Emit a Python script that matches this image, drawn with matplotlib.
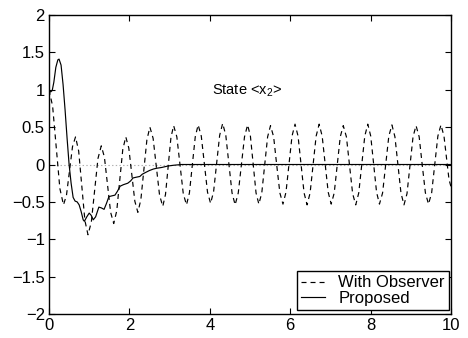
import matplotlib
matplotlib.use('Agg')
import matplotlib.pyplot as plt
from matplotlib.ticker import FuncFormatter

plt.rcParams['font.family'] = ['Liberation Sans', 'DejaVu Sans']
plt.rcParams['font.size'] = 12
plt.rcParams['lines.scale_dashes'] = False

# state x2, observer based controller (dashed)
t_obs = [0.0, 0.09, 0.18, 0.27,
	0.36, 0.435, 0.51, 0.585,
	0.66, 0.738, 0.815, 0.893,
	0.97, 1.053, 1.135, 1.218,
	1.30, 1.378, 1.455, 1.533,
	1.61, 1.685, 1.76, 1.835,
	1.91, 1.985, 2.06, 2.135,
	2.21, 2.285, 2.36, 2.435,
	2.51, 2.59, 2.67, 2.75,
	2.83, 2.898, 2.965, 3.033,
	3.10, 3.18, 3.26, 3.34,
	3.42, 3.493, 3.565, 3.638,
	3.71, 3.788, 3.865, 3.943,
	4.02, 4.095, 4.17, 4.245,
	4.32, 4.398, 4.475, 4.553,
	4.63, 4.708, 4.785, 4.863,
	4.94, 5.01, 5.08, 5.15,
	5.22, 5.293, 5.365, 5.438,
	5.51, 5.588, 5.665, 5.743,
	5.82, 5.895, 5.97, 6.045,
	6.12, 6.195, 6.27, 6.345,
	6.42, 6.495, 6.57, 6.645,
	6.72, 6.795, 6.87, 6.945,
	7.02, 7.095, 7.17, 7.245,
	7.32, 7.398, 7.475, 7.553,
	7.63, 7.705, 7.78, 7.855,
	7.93, 8.003, 8.075, 8.148,
	8.22, 8.298, 8.375, 8.453,
	8.53, 8.605, 8.68, 8.755,
	8.83, 8.905, 8.98, 9.055,
	9.13, 9.208, 9.285, 9.363,
	9.44, 9.518, 9.595, 9.673,
	9.75, 9.825, 9.90, 9.95, 10.0]
x2_obs = [1.00, 0.78, 0.23, -0.32,
	-0.54, -0.41, -0.09, 0.24,
	0.37, 0.18, -0.29, -0.75,
	-0.94, -0.77, -0.35, 0.08,
	0.25, 0.10, -0.27, -0.64,
	-0.79, -0.62, -0.21, 0.20,
	0.37, 0.22, -0.14, -0.49,
	-0.64, -0.47, -0.07, 0.33,
	0.50, 0.35, -0.03, -0.41,
	-0.56, -0.40, -0.02, 0.36,
	0.52, 0.37, -0.01, -0.39,
	-0.54, -0.38, -0.01, 0.37,
	0.53, 0.38, 0.01, -0.37,
	-0.52, -0.36, 0.02, 0.39,
	0.55, 0.39, 0.01, -0.38,
	-0.54, -0.38, -0.01, 0.37,
	0.53, 0.38, 0.00, -0.38,
	-0.53, -0.38, -0.01, 0.37,
	0.52, 0.37, -0.01, -0.38,
	-0.53, -0.37, 0.01, 0.38,
	0.54, 0.38, 0.00, -0.38,
	-0.54, -0.38, 0.00, 0.38,
	0.54, 0.38, 0.01, -0.37,
	-0.53, -0.38, -0.01, 0.37,
	0.52, 0.37, -0.01, -0.39,
	-0.54, -0.38, 0.00, 0.38,
	0.54, 0.38, 0.01, -0.37,
	-0.53, -0.38, 0.00, 0.38,
	0.53, 0.37, -0.01, -0.38,
	-0.54, -0.39, -0.01, 0.37,
	0.52, 0.37, -0.01, -0.38,
	-0.53, -0.38, 0.00, 0.38,
	0.53, 0.38, 0.03, -0.20, -0.30]

# state x2, proposed controller (solid)
t_prop = [0.0, 0.04, 0.08, 0.12, 0.17, 0.22, 0.25, 0.30, 0.35, 0.40,
	0.45, 0.50, 0.55, 0.60, 0.65, 0.70, 0.75, 0.80, 0.85, 0.88,
	0.94, 1.00, 1.05, 1.10, 1.16, 1.24, 1.30, 1.37, 1.43, 1.49,
	1.56, 1.64, 1.70, 1.77, 1.85, 1.96, 2.03, 2.09, 2.17, 2.26,
	2.32, 2.39, 2.50, 2.60, 2.68, 2.80, 2.96, 3.10, 3.30, 3.60,
	4.00, 10.0]
x2_prop = [1.00, 0.97, 0.99, 1.10, 1.30, 1.40, 1.41, 1.33, 1.07, 0.73,
	0.35, 0.00, -0.25, -0.44, -0.49, -0.50, -0.54, -0.63, -0.74, -0.76,
	-0.70, -0.65, -0.68, -0.74, -0.70, -0.57, -0.58, -0.60, -0.52, -0.43,
	-0.42, -0.41, -0.36, -0.29, -0.27, -0.25, -0.22, -0.18, -0.17, -0.16,
	-0.13, -0.11, -0.08, -0.06, -0.05, -0.04, -0.02, -0.01, 0.00, 0.00,
	0.00, 0.00]

xticks = [0, 2, 4, 6, 8, 10]
yticks = [-2, -1.5, -1, -0.5, 0, 0.5, 1, 1.5, 2]

fig = plt.figure(figsize=(4.68, 3.38), dpi=100)
ax = fig.add_axes([0.1047, 0.071, 0.859, 0.8846])

ax.axhline(0, color='#b0b0b0', linestyle=':', linewidth=0.8, zorder=1)
ax.plot(t_obs, x2_obs, color='black', linewidth=0.85, dashes=(3.6, 2.9), label='With Observer', zorder=2)
ax.plot(t_prop, x2_prop, color='black', linewidth=0.85, label='Proposed', zorder=3)

ax.text(4.05, 0.93, r'State <$\mathregular{x_2}$>', ha='left', va='baseline', fontsize=10.5)

ax.set_xlim(0, 10)
ax.set_ylim(-2, 2)
ax.set_xticks(xticks)
ax.set_yticks(yticks)
ax.xaxis.set_major_formatter(FuncFormatter(lambda v, p: ('%g' % v).replace('-', '\u2212')))
ax.yaxis.set_major_formatter(FuncFormatter(lambda v, p: ('%g' % v).replace('-', '\u2212')))
ax.tick_params(direction='in', top=True, right=True, length=4, width=0.8, pad=3, colors='black')
for s in ax.spines.values():
	s.set_linewidth(1.0)
	s.set_color('black')

leg = ax.legend(loc='lower right', bbox_to_anchor=(0.995, 0.012), borderaxespad=0,
	fancybox=False, framealpha=1, edgecolor='black', handlelength=1.45,
	handletextpad=0.8, borderpad=0.25, labelspacing=0.05)
leg.get_frame().set_linewidth(1.0)

fig.savefig('out.png', dpi=100)
